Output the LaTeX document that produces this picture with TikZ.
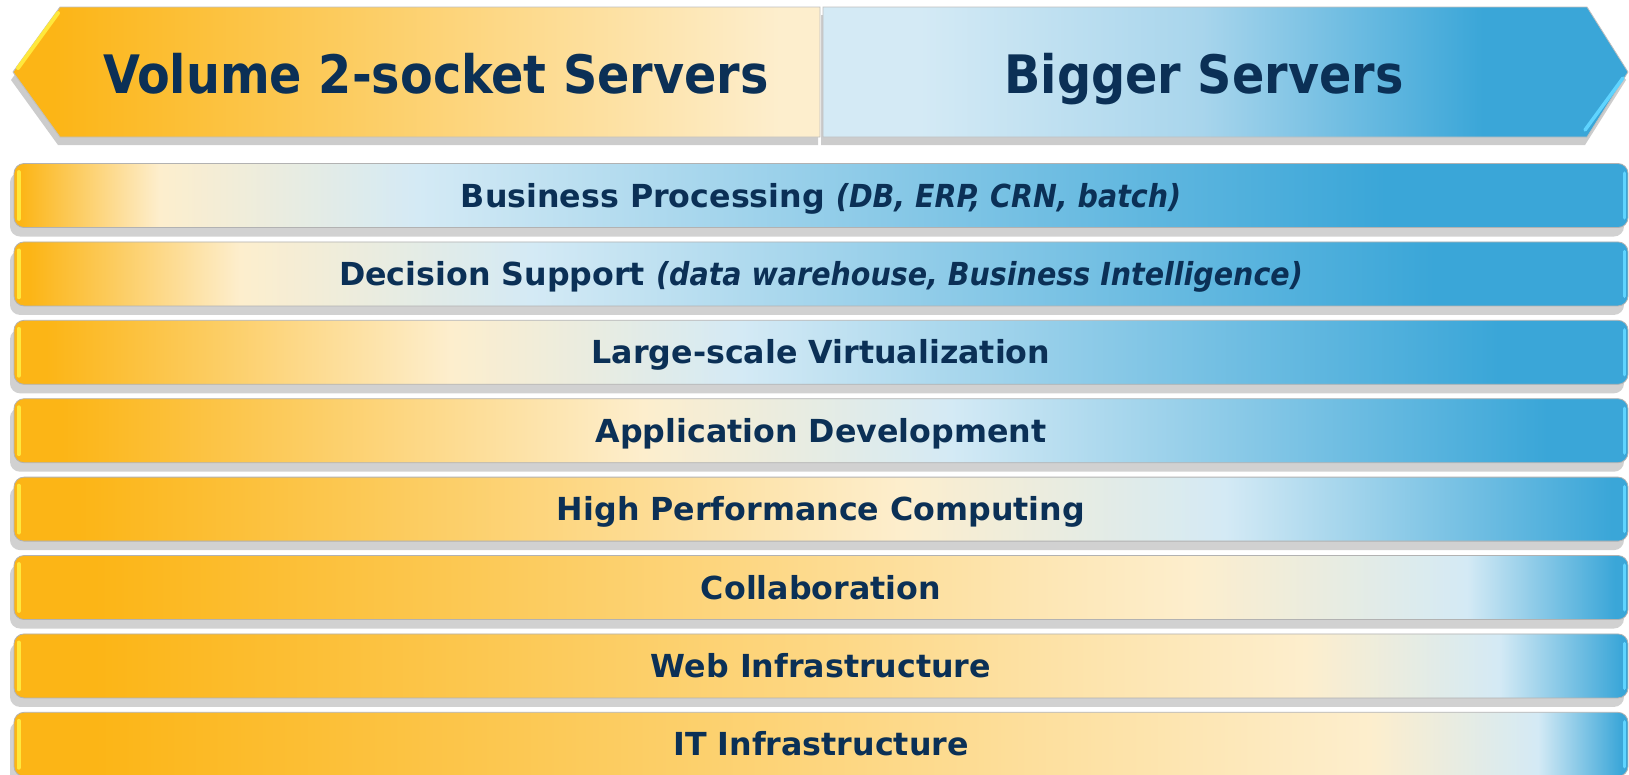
\documentclass[tikz,border=0pt]{standalone}
\usepackage{fontspec}
\setmainfont{DejaVuSans}[Extension=.ttf,BoldFont=*-Bold]
\newfontfamily\condfont{DejaVuSansCondensed}[Extension=.ttf,BoldFont=*-Bold,BoldItalicFont=*-BoldOblique]
\usetikzlibrary{shadows}

\definecolor{navy}{RGB}{11,48,86}
\definecolor{bOrange}{RGB}{252,181,22}
\definecolor{bCream}{RGB}{253,238,205}
\definecolor{bLight}{RGB}{212,234,245}
\definecolor{bMid}{RGB}{168,213,236}
\definecolor{bBlue}{RGB}{58,166,216}
\definecolor{hiYellow}{RGB}{255,232,60}
\definecolor{hiCyan}{RGB}{95,212,255}

% orange -> cream -> light blue -> blue, stops given in bp (25..75 = bar width)
\newcommand\barshade[5]{\pgfdeclarehorizontalshading{#1}{100bp}{color(0bp)=(bOrange); color(#2bp)=(bOrange); color(#3bp)=(bCream); color(#4bp)=(bLight); color(#5bp)=(bBlue); color(100bp)=(bBlue)}}
\barshade{bs1}{25.2}{29.5}{37.5}{67.5}
\barshade{bs2}{25.5}{32}{41}{69}
\barshade{bs3}{26}{38.5}{47.5}{71}
\barshade{bs4}{26.5}{44.5}{54}{72.5}
\barshade{bs5}{27}{52.5}{62.5}{74.5}
\barshade{bs6}{27.5}{61.5}{70}{74.6}
\barshade{bs7}{27.5}{65}{71}{74.8}
\barshade{bs8}{27.5}{67}{72.2}{74.8}
\pgfdeclarehorizontalshading{headL}{100bp}{color(0bp)=(bOrange); color(27.5bp)=(bOrange); color(72.5bp)=(bCream); color(100bp)=(bCream)}
\pgfdeclarehorizontalshading{headR}{100bp}{color(0bp)=(bLight); color(31bp)=(bLight); color(48.5bp)=(bMid); color(66bp)=(bBlue); color(100bp)=(bBlue)}

\newcommand\aside[1]{{\condfont\bfseries\itshape #1}}

\begin{document}
\begin{tikzpicture}[x=1pt,y=-1pt,
  head/.style={text=navy,font=\condfont\bfseries\fontsize{53}{60}\selectfont,inner sep=0pt,text height=38.6pt,text depth=0pt},
  hdshape/.style={shade,draw=black!25,line width=0.8pt,drop shadow={shadow xshift=-2pt,shadow yshift=-8pt,fill=black,opacity=0.2}},
  bar/.style={shade,rounded corners=10pt,minimum width=1614pt,minimum height=64pt,inner sep=0pt,draw=black!30,line width=0.8pt,
    text=navy,font=\bfseries\fontsize{31.7}{36}\selectfont,text height=23pt,text depth=0pt,
    drop shadow={shadow xshift=-4pt,shadow yshift=-9pt,fill=black,opacity=0.18}},
  hiY/.style={hiYellow,line width=4pt,line cap=round},
  hiC/.style={hiCyan,line width=3.5pt,line cap=round}]
\path[fill=white,use as bounding box] (0,0) rectangle (1629,774);

% header arrows
\path[hdshape,shading=headL] (60,7) -- (820,7) -- (820,137) -- (60,137) -- (13,72) -- cycle;
\path[hdshape,shading=headR] (823,7) -- (1587,7) -- (1628,72) -- (1587,137) -- (823,137) -- cycle;
\draw[hiY] (58,13) -- (18,68);
\draw[hiC] (1623,78) -- (1585,130);
\node[head] (volhd) at (436,74) {Volume 2-socket Servers};
\node[head] (bighd) at (1204,74) {Bigger Servers};

% workload bars
\foreach \i/\txt in {1/{Business Processing \aside{(DB, ERP, CRN, batch)}},
  2/{Decision Support \aside{(data warehouse, Business Intelligence)}},
  3/{Large-scale Virtualization},4/{Application Development},
  5/{High Performance Computing},6/{Collaboration},
  7/{Web Infrastructure},8/{IT Infrastructure}}{
  \node[bar,shading=bs\i] (bp\i) at (821,{195.5+78.4*(\i-1)}) {\txt};
  \draw[hiY] ([xshift=5pt,yshift=-9pt]bp\i.north west) -- ([xshift=5pt,yshift=9pt]bp\i.south west);
  \draw[hiC] ([xshift=-4pt,yshift=-10pt]bp\i.north east) -- ([xshift=-4pt,yshift=10pt]bp\i.south east);
}
\end{tikzpicture}
\end{document}
